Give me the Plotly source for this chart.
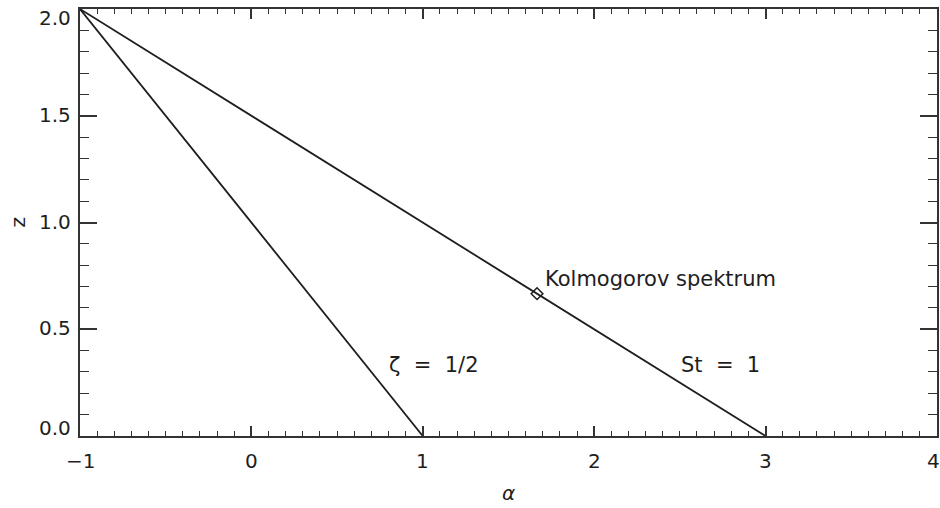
import plotly.graph_objects as go

# Parameter-space boundaries in the (alpha, z) plane
zeta_alpha = [-1.0, 1.0]
zeta_z = [2.0, 0.0]
stokes_alpha = [-1.0, 3.0]
stokes_z = [2.0, 0.0]

# Kolmogorov point
kolmo_alpha = [5.0 / 3.0]
kolmo_z = [2.0 / 3.0]

# Axis ticks
x_ticks = [-1, 0, 1, 2, 3, 4]
x_tick_text = ["\u22121", "0", "1", "2", "3", "4"]
y_ticks = [0.0, 0.5, 1.0, 1.5, 2.0]
y_tick_text = ["0.0", "0.5", "1.0", "1.5", "2.0"]

ink = "#1e1e1e"
font_family = "DejaVu Sans"
tick_font = dict(family=font_family, size=20, color=ink)

fig = go.Figure()
fig.add_trace(go.Scatter(x=zeta_alpha, y=zeta_z, mode="lines",
                         line=dict(color=ink, width=1.8), showlegend=False))
fig.add_trace(go.Scatter(x=stokes_alpha, y=stokes_z, mode="lines",
                         line=dict(color=ink, width=1.8), showlegend=False))
fig.add_trace(go.Scatter(x=kolmo_alpha, y=kolmo_z, mode="markers",
                         marker=dict(symbol="diamond-open", size=9,
                                     color=ink, line=dict(width=1.5, color=ink)),
                         showlegend=False))

label_font = dict(family=font_family, size=21, color=ink)
fig.add_annotation(x=1.70, y=0.735, text="Kolmogorov spektrum", showarrow=False,
                   xanchor="left", yanchor="middle", font=label_font)
fig.add_annotation(x=0.79, y=0.333, text="ζ\u00a0 =\u00a0 1/2", showarrow=False,
                   xanchor="left", yanchor="middle", font=label_font)
fig.add_annotation(x=2.495, y=0.333, text="St\u00a0 =\u00a0 1", showarrow=False,
                   xanchor="left", yanchor="middle", font=label_font)

# End labels are nudged inward so they stay inside the frame
y_shift = {0: 8, len(y_ticks) - 1: -9}
for i, (v, t) in enumerate(zip(y_ticks, y_tick_text)):
    fig.add_annotation(x=0, xref="paper", y=v, yref="y", text=t, showarrow=False,
                       xanchor="right", yanchor="middle", xshift=-7,
                       yshift=y_shift.get(i, 1), font=tick_font)
x_shift = {len(x_ticks) - 1: -3}
for i, (v, t) in enumerate(zip(x_ticks, x_tick_text)):
    fig.add_annotation(x=v, xref="x", y=0, yref="paper", text=t, showarrow=False,
                       xanchor="center", yanchor="middle", yshift=-25,
                       xshift=x_shift.get(i, 0), font=tick_font)

axis_common = dict(
    showgrid=False, zeroline=False, showline=True, linecolor="#333333",
    linewidth=1.5, mirror="ticks", ticks="inside", tickcolor="#333333",
    tickwidth=1.5, showticklabels=False, automargin=False,
)

fig.update_xaxes(range=[-1, 4.0004], tickmode="array", tickvals=x_ticks, ticklen=10,
                 minor=dict(dtick=0.1, tick0=-1, ticklen=5, ticks="inside",
                            tickcolor="#333333", tickwidth=1.2),
                 **axis_common)
fig.update_yaxes(range=[0, 2.0003], tickmode="array", tickvals=y_ticks, ticklen=17,
                 minor=dict(dtick=0.1, tick0=0, ticklen=9, ticks="inside",
                            tickcolor="#333333", tickwidth=1.2),
                 **axis_common)

# Axis titles
fig.add_annotation(x=0.5, xref="paper", y=0, yref="paper", text="α",
                   showarrow=False, yanchor="middle", yshift=-57,
                   font=dict(family=font_family, size=20, color=ink, style="italic"))
fig.add_annotation(x=0, xref="paper", y=0.5, yref="paper", text="z",
                   showarrow=False, xanchor="center", xshift=-63, textangle=-90,
                   font=dict(family=font_family, size=20, color=ink))

fig.update_layout(width=940, height=508,
                  margin=dict(l=80, r=3, t=9, b=72),
                  paper_bgcolor="white", plot_bgcolor="white")

fig.write_html("out.html")
